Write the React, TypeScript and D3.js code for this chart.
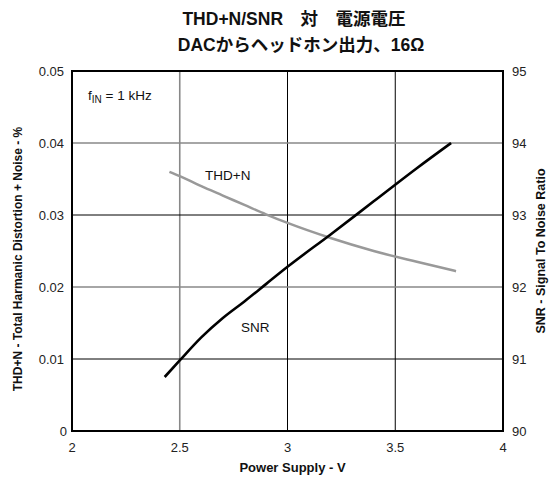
import React from "react";
import * as d3 from "d3";

const titleLines = ["THD+N/SNR　対　電源電圧", "DACからヘッドホン出力、16Ω"];
const xTicks = [2, 2.5, 3, 3.5, 4];
const leftTicks = [0, 0.01, 0.02, 0.03, 0.04, 0.05];
const rightTicks = [90, 91, 92, 93, 94, 95];

const snrSupply = [2.43, 2.5, 2.6, 2.7, 2.8, 2.9, 3.0, 3.2, 3.4, 3.6, 3.759];
const snrValues = [90.75, 90.98, 91.3, 91.57, 91.8, 92.04, 92.28, 92.73, 93.19, 93.65, 94.0];

const thdSupply = [2.452, 2.5, 2.6, 2.7, 2.8, 2.9, 3.0, 3.2, 3.4, 3.6, 3.782];
const thdValues = [0.036, 0.0354, 0.034, 0.0327, 0.0314, 0.0301, 0.0289, 0.0268, 0.025, 0.0235, 0.0222];

const FONT = "'Liberation Sans', Arial, Helvetica, 'Noto Sans CJK JP', sans-serif";

export default function App() {
  const W = 550, H = 477;
  const L = 72, R = 503, T = 71, B = 431;
  const x = d3.scaleLinear().domain([2, 4]).range([L, R]);
  const yL = d3.scaleLinear().domain([0, 0.05]).range([B, T]);
  const yR = d3.scaleLinear().domain([90, 95]).range([B, T]);

  const snrLine = d3
    .line<number>()
    .x((d, i) => x(snrSupply[i]))
    .y((d) => yR(d))
    .curve(d3.curveMonotoneX)(snrValues) as string;
  const thdLine = d3
    .line<number>()
    .x((d, i) => x(thdSupply[i]))
    .y((d) => yL(d))
    .curve(d3.curveMonotoneX)(thdValues) as string;

  const grayV = new Set([2.5]);
  const grayH = new Set([0.02, 0.04]);

  return (
    <svg
      width={W}
      height={H}
      style={{ position: "absolute", left: 0, top: 0, background: "#fff" }}
      fontFamily={FONT}
    >
      <rect x={0} y={0} width={W} height={H} fill="#fff" />
      <text x={294} y={25} textAnchor="middle" fontWeight="bold" fontSize={17.5} fill="#111">
        {titleLines[0]}
      </text>
      <text x={301} y={51} textAnchor="middle" fontWeight="bold" fontSize={17.5} fill="#111">
        {titleLines[1]}
      </text>

      {xTicks.slice(1, -1).map((v) => (
        <line
          key={"vx" + v}
          x1={x(v)}
          x2={x(v)}
          y1={T}
          y2={B}
          stroke={grayV.has(v) ? "#888" : "#000"}
          strokeWidth={grayV.has(v) ? 1.6 : 1}
        />
      ))}
      {leftTicks.slice(1, -1).map((v) => (
        <line
          key={"hy" + v}
          x1={L}
          x2={R}
          y1={yL(v)}
          y2={yL(v)}
          stroke={grayH.has(v) ? "#888" : "#000"}
          strokeWidth={grayH.has(v) ? 1.6 : 1}
        />
      ))}

      <rect x={L} y={T} width={R - L} height={B - T} fill="none" stroke="#000" strokeWidth={2} />

      <path d={thdLine} fill="none" stroke="#999" strokeWidth={2.5} />
      <path d={snrLine} fill="none" stroke="#000" strokeWidth={2.6} />

      {leftTicks.map((v) => (
        <text
          key={"lt" + v}
          x={v === 0 ? 67 : 64}
          y={yL(v)}
          dy="0.35em"
          textAnchor="end"
          fontSize={13}
          fill="#222"
        >
          {v === 0 ? "0" : d3.format(".2f")(v)}
        </text>
      ))}
      {rightTicks.map((v) => (
        <text key={"rt" + v} x={512} y={yR(v)} dy="0.35em" textAnchor="start" fontSize={13} fill="#222">
          {v}
        </text>
      ))}
      {xTicks.map((v) => (
        <text key={"xt" + v} x={x(v)} y={447} dy="0.35em" textAnchor="middle" fontSize={13} fill="#222">
          {v}
        </text>
      ))}

      <text x={(L + R) / 2 + 5} y={467} dy="0.35em" textAnchor="middle" fontWeight="bold" fontSize={13} fill="#111">
        Power Supply - V
      </text>
      <text
        transform={`translate(18,${(T + B) / 2 + 8}) rotate(-90)`}
        textAnchor="middle"
        dy="0.35em"
        fontWeight="bold"
        fontSize={12}
        fill="#111"
      >
        THD+N - Total Harmanic Distortion + Noise - %
      </text>
      <text
        transform={`translate(541,${(T + B) / 2}) rotate(-90)`}
        textAnchor="middle"
        dy="0.35em"
        fontWeight="bold"
        fontSize={12.5}
        fill="#111"
      >
        SNR - Signal To Noise Ratio
      </text>

      <text x={88} y={95} dy="0.35em" fontSize={13.5} fill="#111">
        f<tspan fontSize={10} dy={3}>IN</tspan>
        <tspan dy={-3}> = 1 kHz</tspan>
      </text>
      <text x={205} y={175} dy="0.35em" fontSize={13.5} fill="#111">
        THD+N
      </text>
      <text x={241} y={327} dy="0.35em" fontSize={13.5} fill="#111">
        SNR
      </text>
    </svg>
  );
}
